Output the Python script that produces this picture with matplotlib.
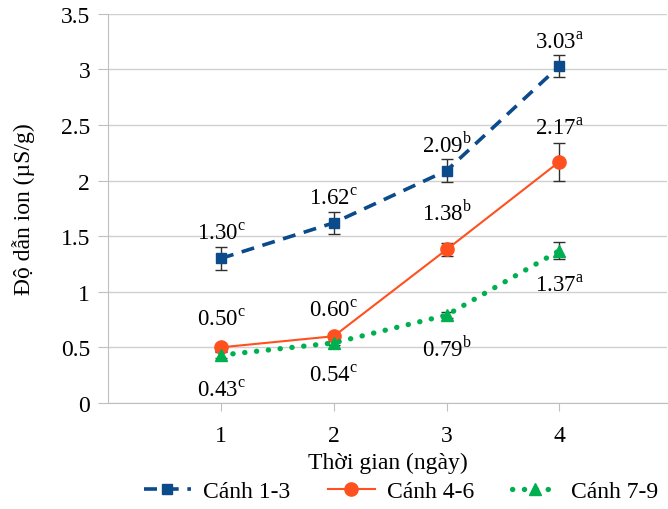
import matplotlib
matplotlib.use("Agg")
import matplotlib.pyplot as plt

plt.rcParams['font.family'] = ['Liberation Serif', 'DejaVu Serif']
plt.rcParams['mathtext.fontset'] = 'custom'
plt.rcParams['mathtext.rm'] = 'Liberation Serif'

# data
days = [1, 2, 3, 4]
canh_13 = [1.30, 1.62, 2.09, 3.03]
canh_46 = [0.50, 0.60, 1.38, 2.17]
canh_79 = [0.43, 0.54, 0.79, 1.37]
err_13 = [0.10, 0.10, 0.10, 0.10]
err_46 = [0.03, 0.02, 0.06, 0.17]
err_79 = [0.03, 0.02, 0.03, 0.08]
let_13 = ['c', 'c', 'b', 'a']
let_46 = ['c', 'c', 'b', 'a']
let_79 = ['c', 'c', 'b', 'a']

fig = plt.figure(figsize=(6.68, 5.10), dpi=100)
ax = fig.add_axes([0.162, 0.208, 0.836, 0.763])

blue = '#0B4A8B'
orange = '#FF5020'
green = '#00B050'
ecol = '#303030'

# error bars
ax.errorbar(days, canh_13, yerr=err_13, fmt='none', ecolor=ecol, elinewidth=1, capsize=4, zorder=2)
ax.errorbar(days, canh_46, yerr=err_46, fmt='none', ecolor=ecol, elinewidth=1, capsize=4, zorder=2)
ax.errorbar(days, canh_79, yerr=err_79, fmt='none', ecolor=ecol, elinewidth=1, capsize=4, zorder=2)

# lines
ax.plot(days, canh_13, color=blue, ls=(0, (3.6, 2.4)), lw=2.6, marker='s', ms=7.5,
        label='Cánh 1-3', zorder=3)
ax.plot(days, canh_46, color=orange, ls='-', lw=1.5, marker='o', ms=9.5,
        label='Cánh 4-6', zorder=3)
ax.plot(days, canh_79, color=green, ls=(0, (0.05, 2.2)), lw=3.8, dash_capstyle='round',
        marker='^', ms=9, label='Cánh 7-9', zorder=3)

fs = 16.5
def lab(v, l):
    return '%.2f$^{\\mathrm{%s}}$' % (v, l)

# baseline offsets (points) for data labels
off_13 = [14, 14, 14, 13]
off_46 = [16, 15, 22, 20]
off_79 = [-29, -27, -29, -29]
for i in range(4):
    ax.annotate(lab(canh_13[i], let_13[i]), (days[i], canh_13[i]), xytext=(0, off_13[i]),
                textcoords='offset points', ha='center', va='baseline', fontsize=fs)
    ax.annotate(lab(canh_46[i], let_46[i]), (days[i], canh_46[i]), xytext=(0, off_46[i]),
                textcoords='offset points', ha='center', va='baseline', fontsize=fs)
    ax.annotate(lab(canh_79[i], let_79[i]), (days[i], canh_79[i]), xytext=(0, off_79[i]),
                textcoords='offset points', ha='center', va='baseline', fontsize=fs)

ax.set_xlim(0, 4.95)
ax.set_ylim(0, 3.5)
ax.set_xticks(days)
ax.set_yticks([0, 0.5, 1, 1.5, 2, 2.5, 3, 3.5])
ax.set_yticklabels(['0', '0.5', '1', '1.5', '2', '2.5', '3', '3.5'])
ax.tick_params(axis='both', labelsize=17, color='#BFBFBF', length=6)
ax.tick_params(axis='x', pad=10)
ax.tick_params(axis='y', length=7, pad=6)
ax.grid(axis='y', color='#D0D0D0', lw=1)
ax.set_axisbelow(True)
for s in ['top', 'right']:
    ax.spines[s].set_visible(False)
ax.spines['left'].set_color('#BFBFBF')
ax.spines['bottom'].set_color('#BFBFBF')
ax.set_xlabel('Thời gian (ngày)', fontsize=17, labelpad=4)
ax.set_ylabel('Độ dẫn ion (µS/g)', fontsize=17)
ax.yaxis.set_label_coords(-0.131, 0.5)

fig.legend(loc='center', bbox_to_anchor=(0.6, 0.034), ncol=3, frameon=False,
           fontsize=17, handlelength=2.0, columnspacing=1.6, handletextpad=0.5)

fig.savefig('out.png', dpi=100)
